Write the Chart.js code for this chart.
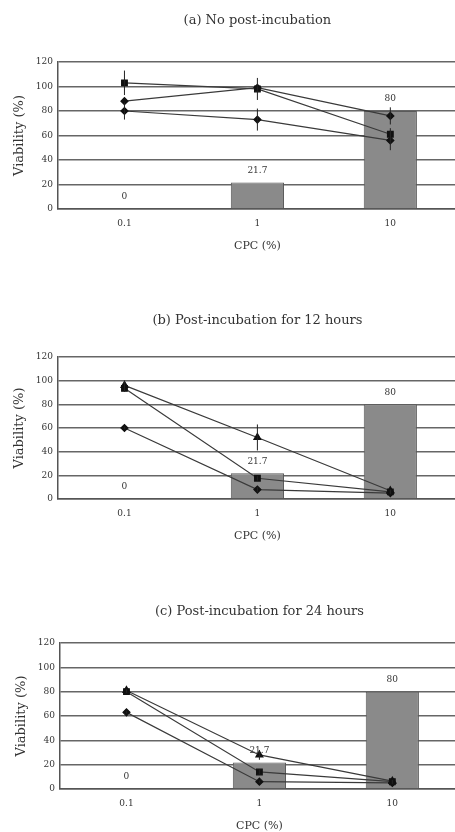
<!DOCTYPE html>
<html><head><meta charset="utf-8">
<script src="https://cdn.jsdelivr.net/npm/chart.js@4"></script>
<style>
html,body{margin:0;padding:0;background:#fff;width:455px;height:832px;overflow:hidden;position:relative}
canvas{position:absolute;left:0}
</style></head><body>
<canvas id="ca" width="462" height="257" style="top:0px"></canvas>
<canvas id="cb" width="462" height="247" style="top:300px"></canvas>
<canvas id="cc" width="462" height="246" style="top:591px;left:2px"></canvas>
<script>
// ---- data ----
const categories = ['0.1', '1', '10'];
const barValues = [0, 21.7, 80];
const barLabels = ['0', '21.7', '80'];
const yTicks = [0, 20, 40, 60, 80, 100, 120];
const titles = ['(a) No post-incubation', '(b) Post-incubation for 12 hours', '(c) Post-incubation for 24 hours'];
const xTitle = 'CPC (%)';
const yTitle = 'Viability (%)';

// panel (a)
const aSquare = [103, 98, 61];   const aSquareErr = [10, 9, 5];
const aTri    = [88, 99, 76];    const aTriErr    = [0, 0, 7];
const aDiam   = [80, 73, 56];    const aDiamErr   = [7, 9, 8];
// panel (b)
const bSquare = [93.5, 17.5, 6]; const bSquareErr = [3, 2, 1];
const bTri    = [96, 52, 7];     const bTriErr    = [4, 11, 1];
const bDiam   = [60, 8, 5];      const bDiamErr   = [1, 2, 1];
// panel (c)
const cSquare = [80, 14, 6];     const cSquareErr = [1, 2, 1];
const cTri    = [81, 28, 6.5];   const cTriErr    = [1, 4, 1];
const cDiam   = [63, 6, 5];      const cDiamErr   = [1, 1, 1];

const SERIF = '"DejaVu Serif", "Liberation Serif", serif';

const overlay = {
  id: 'overlay',
  afterDatasetsDraw(chart) {
    const ctx = chart.ctx, y = chart.scales.y;
    chart.data.datasets.forEach((ds, i) => {
      const meta = chart.getDatasetMeta(i);
      if (ds.errors) {
        ctx.save(); ctx.strokeStyle = '#222'; ctx.lineWidth = 1;
        meta.data.forEach((pt, j) => {
          const e = ds.errors[j]; if (!e) return;
          const v = ds.data[j];
          ctx.beginPath();
          ctx.moveTo(pt.x, y.getPixelForValue(v + e));
          ctx.lineTo(pt.x, y.getPixelForValue(v - e));
          ctx.stroke();
        });
        ctx.restore();
      }
      if (ds.valueLabels) {
        ctx.save(); ctx.font = '9px ' + SERIF; ctx.fillStyle = '#333';
        ctx.textAlign = 'center'; ctx.textBaseline = 'middle';
        meta.data.forEach((bar, j) => ctx.fillText(ds.valueLabels[j], bar.x, bar.y - 12));
        ctx.restore();
      }
    });
  }
};

function makeChart(id, title, titleBottom, lines) {
  new Chart(document.getElementById(id), {
    data: {
      labels: categories,
      datasets: [
        { type: 'bar', data: barValues, valueLabels: barLabels, backgroundColor: '#8a8a8a',
          borderColor: '#5a5a5a', borderWidth: 1, barPercentage: 0.4, categoryPercentage: 1, order: 2 },
        ...lines.map(s => ({ type: 'line', data: s.data, errors: s.err, borderColor: '#3a3a3a',
          borderWidth: 1.2, pointStyle: s.style, pointRadius: s.r, pointBackgroundColor: '#111',
          pointBorderColor: '#111', tension: 0, order: 1 }))
      ]
    },
    options: {
      responsive: false, animation: false, devicePixelRatio: 1,
      layout: { padding: 0 },
      plugins: {
        legend: { display: false }, tooltip: { enabled: false },
        title: { display: true, text: title, fullSize: false, color: '#333',
          font: { family: SERIF, size: 13, weight: 'normal' }, padding: { top: 13, bottom: titleBottom } }
      },
      scales: {
        x: {
          grid: { display: false, drawTicks: false },
          border: { display: true, color: '#555', width: 1.5 },
          ticks: { padding: 9, color: '#333', font: { family: SERIF, size: 9 } },
          title: { display: true, text: xTitle, color: '#333', font: { family: SERIF, size: 11 }, padding: { top: 0, bottom: 4 } },
          afterFit: s => { s.height = 48; }
        },
        y: {
          min: 0, max: 120,
          afterBuildTicks: s => { s.ticks = yTicks.map(v => ({ value: v })); },
          grid: { color: '#666', lineWidth: 1.5, drawTicks: false },
          border: { display: true, color: '#555', width: 1.5 },
          ticks: { padding: 5, color: '#333', font: { family: SERIF, size: 9 } },
          title: { display: true, text: yTitle, color: '#333', font: { family: SERIF, size: 13 }, padding: { top: 12, bottom: 0 } },
          afterFit: s => { s.width = 58; }
        }
      }
    },
    plugins: [overlay]
  });
}

makeChart('ca', titles[0], 33.4, [
  { data: aSquare, err: aSquareErr, style: 'rect', r: 4 },
  { data: aTri, err: aTriErr, style: 'rectRot', r: 3.5 },
  { data: aDiam, err: aDiamErr, style: 'rectRot', r: 3.5 }
]);
makeChart('cb', titles[1], 28.4, [
  { data: bSquare, err: bSquareErr, style: 'rect', r: 4 },
  { data: bTri, err: bTriErr, style: 'triangle', r: 4 },
  { data: bDiam, err: bDiamErr, style: 'rectRot', r: 3.5 }
]);
makeChart('cc', titles[2], 23.4, [
  { data: cSquare, err: cSquareErr, style: 'rect', r: 4 },
  { data: cTri, err: cTriErr, style: 'triangle', r: 4 },
  { data: cDiam, err: cDiamErr, style: 'rectRot', r: 3.5 }
]);
</script>
</body></html>
